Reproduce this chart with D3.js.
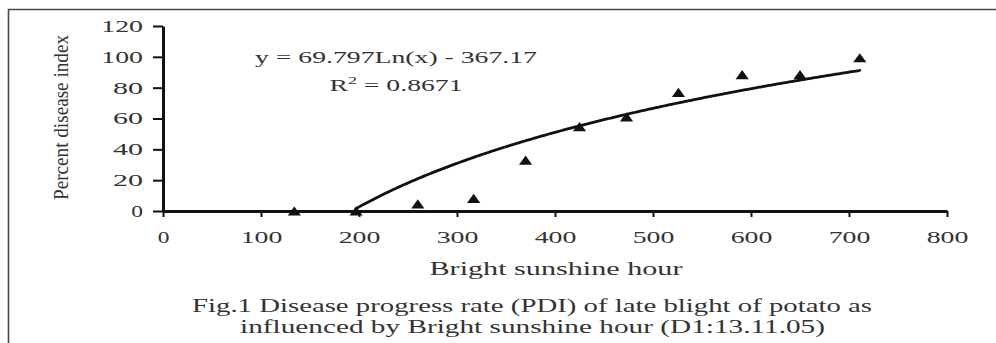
<!DOCTYPE html>
<html><head><meta charset="utf-8">
<script src="https://cdn.jsdelivr.net/npm/d3@7"></script>
<style>
html,body{margin:0;padding:0;background:#fff;}
svg{display:block;}
text{font-family:"Liberation Serif","Times New Roman",serif;fill:#333;}
</style></head>
<body>
<svg id="chart" width="996" height="343"></svg>
<script>
// ---- data ----
const sunshineHours = [134, 197, 260, 317, 370, 425, 473, 526, 591, 650, 711];
const pdiValues     = [0, 0, 4.6, 8.2, 33, 54.7, 61, 77, 88.4, 88.4, 99.4];
const xTicks = [0, 100, 200, 300, 400, 500, 600, 700, 800];
const yTicks = [0, 20, 40, 60, 80, 100, 120];
const trendCoef = [69.797, -367.17]; // y = a*ln(x) + b (from chart)
const trendRange = [197, 711];
const equationText = "y = 69.797Ln(x) - 367.17";
const r2Text = "0.8671";
const xTitle = "Bright sunshine hour";
const yTitle = "Percent disease index";
const captionLines = ["Fig.1 Disease progress rate (PDI) of late blight of potato as",
                      "influenced by Bright sunshine hour (D1:13.11.05)"];

const svg = d3.select("#chart");
const x = d3.scaleLinear().domain([0, 800]).range([163, 947]);
const y = d3.scaleLinear().domain([0, 120]).range([211, 26]);

// frame
svg.append("path").attr("d", "M8.5,343 L8.5,9.5 L996,9.5")
  .attr("fill", "none").attr("stroke", "#4a4a4a").attr("stroke-width", 1.6);

// y axis
const gy = svg.append("g").attr("transform", `translate(${x(0)},0)`)
  .call(d3.axisLeft(y).tickValues(yTicks).tickSize(10).tickSizeOuter(0).tickPadding(10));
gy.select(".domain").attr("stroke", "#111").attr("stroke-width", 3);
gy.selectAll(".tick line").attr("stroke", "#111").attr("stroke-width", 2);
gy.selectAll(".tick text").attr("font-size", 17).attr("fill", "#333")
  .attr("font-family", "Liberation Serif, serif")
  .attr("textLength", d => String(d).length === 1 ? 11.7 : String(d).length === 2 ? 30 : 41.7)
  .attr("lengthAdjust", "spacingAndGlyphs");

// x axis
const gx = svg.append("g").attr("transform", `translate(0,${y(0)})`)
  .call(d3.axisBottom(x).tickValues(xTicks).tickSize(6).tickSizeOuter(0));
gx.select(".domain").attr("stroke", "#111").attr("stroke-width", 3);
gx.selectAll(".tick line").attr("stroke", "#111").attr("stroke-width", 2);
gx.selectAll(".tick text").attr("font-size", 17).attr("fill", "#333")
  .attr("font-family", "Liberation Serif, serif")
  .attr("y", 32).attr("dy", 0)
  .attr("textLength", d => String(d).length === 1 ? 11.7 : 41.7)
  .attr("lengthAdjust", "spacingAndGlyphs");

// trend line
const trendXs = d3.range(trendRange[0], trendRange[1] + 1, 2);
const trendPts = trendXs.map(v => [v, trendCoef[0] * Math.log(v) + trendCoef[1]]);
svg.append("path").datum(trendPts)
  .attr("fill", "none").attr("stroke", "#111").attr("stroke-width", 2.8)
  .attr("stroke-linejoin", "round").attr("stroke-linecap", "round")
  .attr("d", d3.line().x(d => x(d[0])).y(d => y(d[1])));

// markers
const flatTriangle = { draw(ctx, size) { const w = 6.6, h = 4.6;
  ctx.moveTo(0, -h); ctx.lineTo(w, h); ctx.lineTo(-w, h); ctx.closePath(); } };
svg.append("g").selectAll("path").data(sunshineHours).join("path")
  .attr("transform", (d, i) => `translate(${x(d)},${y(pdiValues[i])})`)
  .attr("d", d3.symbol(flatTriangle, 64)).attr("fill", "#111");

// equation
svg.append("text").attr("x", 396).attr("y", 63).attr("text-anchor", "middle")
  .attr("font-size", 17).attr("textLength", 282).attr("lengthAdjust", "spacingAndGlyphs")
  .text(equationText);
const r2 = svg.append("text").attr("x", 396).attr("y", 90.5).attr("text-anchor", "middle")
  .attr("font-size", 17).attr("textLength", 133).attr("lengthAdjust", "spacingAndGlyphs");
r2.append("tspan").text("R");
r2.append("tspan").attr("font-size", 11).attr("dy", -7).text("2");
r2.append("tspan").attr("dy", 7).text(" = " + r2Text);

// axis titles
svg.append("text").attr("x", 556).attr("y", 274.5).attr("text-anchor", "middle")
  .attr("font-size", 18).attr("textLength", 253).attr("lengthAdjust", "spacingAndGlyphs")
  .text(xTitle);
svg.append("text").attr("transform", "translate(68,117.5) rotate(-90)")
  .attr("text-anchor", "middle").attr("font-size", 20)
  .attr("textLength", 165).attr("lengthAdjust", "spacingAndGlyphs")
  .text(yTitle);

// caption
svg.append("text").attr("x", 532).attr("y", 311.7).attr("text-anchor", "middle")
  .attr("font-size", 18.5).attr("textLength", 680).attr("lengthAdjust", "spacingAndGlyphs")
  .text(captionLines[0]);
svg.append("text").attr("x", 532.5).attr("y", 333.3).attr("text-anchor", "middle")
  .attr("font-size", 18.5).attr("textLength", 585).attr("lengthAdjust", "spacingAndGlyphs")
  .text(captionLines[1]);
</script>
</body></html>
